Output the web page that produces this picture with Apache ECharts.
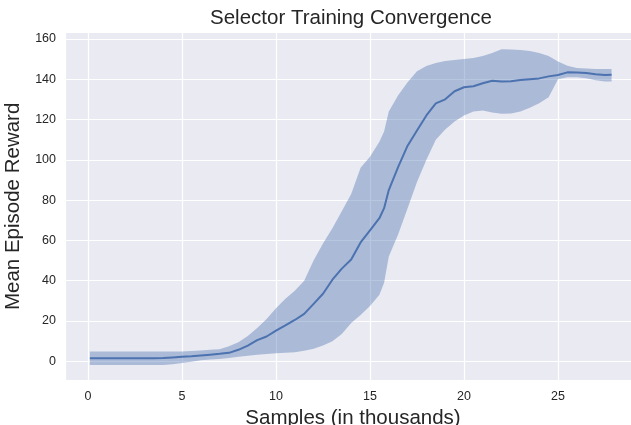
<!DOCTYPE html>
<html>
<head>
<meta charset="utf-8">
<script src="https://cdn.jsdelivr.net/npm/echarts@6/dist/echarts.min.js"></script>
<style>
html,body{margin:0;padding:0;background:#fff;}
#chart{width:631px;height:425px;}
</style>
</head>
<body>
<div id="chart"></div>
<script>
// Samples (in thousands)
const samples = [0.1, 0.5, 1, 1.5, 2, 2.5, 3, 3.5, 4, 4.5, 5, 5.5, 6, 6.5, 7, 7.5, 8, 8.5, 9, 9.5,
  10, 10.5, 11, 11.5, 12, 12.5, 13, 13.5, 14, 14.5, 15, 15.5, 15.75, 16, 16.5, 17, 17.5, 18, 18.5, 19,
  19.5, 20, 20.5, 21, 21.5, 22, 22.5, 23, 23.5, 24, 24.5, 25, 25.5, 26, 26.5, 27, 27.5, 27.85];
const meanReward = [1.5, 1.5, 1.5, 1.5, 1.5, 1.5, 1.5, 1.5, 1.6, 1.9, 2.2, 2.5, 2.9, 3.3, 3.7, 4.2, 5.7, 7.8, 10.5, 12.3,
  15.2, 17.8, 20.5, 23.5, 28.5, 33.5, 40.5, 46, 50.5, 59, 65, 71, 76, 85, 96.5, 107, 114.5, 122, 128, 130,
  134, 136, 136.5, 138, 139.2, 138.8, 139, 139.6, 140, 140.4, 141.4, 142.1, 143.4, 143.3, 143.1, 142.5, 142.1, 142.2];
const upperBand = [4.8, 4.8, 4.8, 4.8, 4.8, 4.8, 4.8, 4.8, 4.8, 4.8, 4.9, 5.1, 5.4, 5.7, 6.0, 7.5, 9.5, 12.5, 16.5, 21,
  26.3, 31, 35, 40, 50, 58.5, 66, 74.5, 83, 96, 101.5, 109, 114, 124, 132, 138.5, 144, 146.5, 148, 149,
  149.5, 150, 150.5, 151.5, 153, 154.8, 154.7, 154.5, 154, 153, 151.5, 148.8, 146.7, 145.6, 145.3, 145.1, 145, 145];
const lowerBand = [-1.8, -1.8, -1.8, -1.8, -1.8, -1.8, -1.8, -1.8, -1.8, -1.5, -0.8, -0.2, 0.5, 0.9, 1.2, 1.6, 2.2, 2.8, 3.3, 3.6,
  4.0, 4.2, 4.5, 5.2, 6.2, 7.8, 10, 13.5, 19, 23, 27.5, 33, 39, 52, 63, 76, 89, 100, 110, 115,
  119, 122, 124, 124.5, 123.5, 122.8, 123, 124, 125.8, 128, 131, 140, 141, 141, 140.5, 139.5, 138.8, 138.8];
const xTickValues = [0, 5, 10, 15, 20, 25];
const yTickValues = [0, 20, 40, 60, 80, 100, 120, 140, 160];

const lineColor = '#4C72B0';
const textColor = '#262626';
const font = 'Liberation Sans, Arial, sans-serif';

const bandData = samples.map((x, i) => [x, lowerBand[i], upperBand[i]]);
const meanData = samples.map((x, i) => [x, meanReward[i]]);

function renderBand(params, api) {
  if (params.dataIndex !== 0) return null;
  const pts = [];
  for (let i = 0; i < samples.length; i++) pts.push(api.coord([samples[i], upperBand[i]]));
  for (let i = samples.length - 1; i >= 0; i--) pts.push(api.coord([samples[i], lowerBand[i]]));
  return {
    type: 'polygon',
    shape: {points: pts},
    style: {fill: lineColor, opacity: 0.4},
    silent: true
  };
}

const chart = echarts.init(document.getElementById('chart'), null, {renderer: 'canvas'});
chart.setOption({
  animation: false,
  backgroundColor: '#ffffff',
  title: {
    text: 'Selector Training Convergence',
    left: 210,
    top: 8,
    padding: 0,
    textStyle: {fontFamily: font, fontSize: 20.5, fontWeight: 'normal', color: textColor}
  },
  grid: {
    left: 65, top: 32, right: -10, bottom: 44.3,
    show: true, backgroundColor: '#EAEAF2', borderWidth: 0,
    containLabel: false, outerBoundsMode: 'none'
  },
  xAxis: {
    type: 'value',
    min: -1.223, max: 29.415,
    minInterval: 5, maxInterval: 5, splitNumber: 6,
    name: 'Samples (in thousands)',
    nameLocation: 'middle', nameGap: 20,
    nameTextStyle: {fontFamily: font, fontSize: 20.5, color: textColor},
    axisLine: {show: false}, axisTick: {show: false},
    axisLabel: {
      showMinLabel: false, showMaxLabel: false, margin: 9,
      fontFamily: font, fontSize: 12.5, color: textColor,
      formatter: v => xTickValues.includes(v) ? String(v) : ''
    },
    splitLine: {show: true, lineStyle: {color: '#ffffff', width: 1.2}}
  },
  yAxis: {
    type: 'value',
    min: -9.63, max: 163.42,
    minInterval: 20, maxInterval: 20, splitNumber: 8,
    name: 'Mean Episode Reward',
    nameLocation: 'middle', nameGap: 32,
    nameTextStyle: {fontFamily: font, fontSize: 20.5, color: textColor},
    axisLine: {show: false}, axisTick: {show: false},
    axisLabel: {
      showMinLabel: false, showMaxLabel: false, margin: 9,
      fontFamily: font, fontSize: 12.5, color: textColor,
      formatter: v => yTickValues.includes(v) ? String(v) : ''
    },
    splitLine: {show: true, lineStyle: {color: '#ffffff', width: 1.2}}
  },
  series: [
    {
      type: 'custom', name: 'band', data: bandData,
      encode: {x: 0, y: [1, 2]},
      renderItem: renderBand,
      silent: true, z: 1
    },
    {
      type: 'line', name: 'mean', data: meanData,
      symbol: 'none', silent: true, z: 2,
      lineStyle: {color: lineColor, width: 2}
    }
  ]
});
</script>
</body>
</html>
